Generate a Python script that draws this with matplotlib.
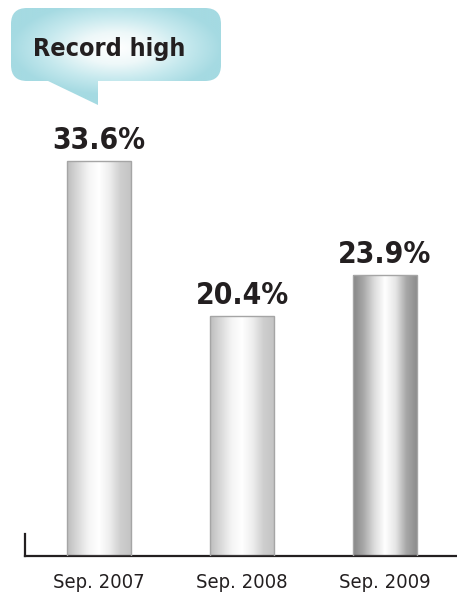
import matplotlib
matplotlib.use('Agg')
import matplotlib.pyplot as plt
from matplotlib.colors import LinearSegmentedColormap
from matplotlib.patches import Rectangle, FancyBboxPatch, Polygon
import numpy as np

# data
categories = ['Sep. 2007', 'Sep. 2008', 'Sep. 2009']
values = [33.6, 20.4, 23.9]
value_labels = ['33.6%', '20.4%', '23.9%']
title_text = 'Record high'

plt.rcParams['font.family'] = ['DejaVu Sans']
plt.rcParams['font.stretch'] = 'condensed'

W, H = 457, 600
dpi = 100
fig = plt.figure(figsize=(W / dpi, H / dpi), dpi=dpi)

# main axes placed in pixel terms: left line at x=25, baseline at y=556
ax = fig.add_axes([25 / W, 44 / H, 432 / W, 470 / H])
ymax = 40
step = 143.0
x0 = -74 / step
x1 = 2 + (432 - 360) / step
bw = 64 / step

light = LinearSegmentedColormap.from_list(
    'light', ['#bdbdbd', '#d9d9d9', '#f4f4f4', '#ffffff', '#eeeeee', '#cfcfcf', '#c4c4c4'])
dark = LinearSegmentedColormap.from_list(
    'dark', ['#858585', '#a9a9a9', '#dcdcdc', '#ffffff', '#e6e6e6', '#a8a8a8', '#8c8c8c'])
cmaps = [light, light, dark]
grad = np.linspace(0, 1, 256).reshape(1, -1)

for i, v in enumerate(values):
    left = i - bw / 2
    rect = Rectangle((left, 0), bw, v, facecolor='none', edgecolor='#a5a5a5', lw=1.0, zorder=3)
    ax.add_patch(rect)
    im = ax.imshow(grad, cmap=cmaps[i], extent=(left, left + bw, 0, v), aspect='auto',
                   interpolation='bicubic', zorder=2)
    im.set_clip_path(rect)
    ax.text(i, v + 0.5, value_labels[i], ha='center', va='bottom', fontsize=21.5,
            fontweight='bold', color='#231f20', fontstretch='condensed')

ax.set_xlim(x0, x1)
ax.set_ylim(0, ymax)
ax.set_xticks(range(len(categories)))
ax.set_xticklabels(categories, fontsize=14.5, color='#231f20', fontstretch='condensed')
ax.tick_params(axis='x', length=0, pad=12)
ax.set_yticks([])
for s in ['top', 'right']:
    ax.spines[s].set_visible(False)
ax.spines['bottom'].set_linewidth(1.6)
ax.spines['bottom'].set_color('#231f20')
ax.spines['left'].set_linewidth(1.6)
ax.spines['left'].set_color('#231f20')
ax.spines['left'].set_bounds(0, 1.9)
ax.patch.set_alpha(0)

# speech bubble in pixel coords
bx = fig.add_axes([0, 0, 1, 1])
bx.set_xlim(0, W)
bx.set_ylim(H, 0)
bx.axis('off')
bx.patch.set_alpha(0)

box = FancyBboxPatch((11, 8), 210, 73, boxstyle='round,pad=0,rounding_size=16',
                     facecolor='none', edgecolor='none')
tail = Polygon([(46, 80), (98, 80), (98, 105)], closed=True, facecolor='none', edgecolor='none')
bx.add_patch(box)
bx.add_patch(tail)

gx, gy = np.meshgrid(np.linspace(-1, 1, 300), np.linspace(-1, 1, 150))
r = np.sqrt((gx / 1.0) ** 2 + ((gy + 0.2) / 0.95) ** 2)
cyan = LinearSegmentedColormap.from_list('cyan', ['#ffffff', '#eef8f9', '#c6e9ee', '#a5dae2'])
for p in (box, tail):
    im = bx.imshow(np.clip(r, 0, 1), cmap=cyan, extent=(10, 222, 108, 8), aspect='auto',
                   interpolation='bicubic')
    im.set_clip_path(p)
bx.set_xlim(0, W)
bx.set_ylim(H, 0)

bx.text(109, 49, title_text, ha='center', va='center', fontsize=18, fontweight='bold',
        color='#231f20', fontstretch='condensed')

fig.savefig('out.png', dpi=dpi)
